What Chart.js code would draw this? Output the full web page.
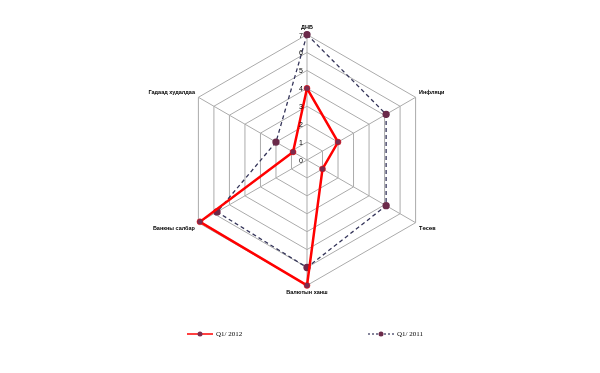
<!DOCTYPE html>
<html>
<head>
<meta charset="utf-8">
<script src="https://cdn.jsdelivr.net/npm/chart.js@4.4.0/dist/chart.umd.min.js"></script>
<style>
  body { margin: 0; background: #fff; }
  #wrap { width: 600px; height: 373px; position: relative; }
</style>
</head>
<body>
<div id="wrap"><canvas id="radar-chart"></canvas></div>
<script>
// data
var categories = ["ДНБ", "Инфляци", "Төсөв", "Валютын ханш", "Банкны салбар", "Гадаад худалдаа"];
var series2012 = [4, 2, 1, 7, 6.9, 0.9];
var series2011 = [7, 5.1, 5.1, 6, 5.8, 2];
var seriesNames = ["Q1/ 2012", "Q1/ 2011"];
var tickValues = [0, 1, 2, 3, 4, 5, 6, 7];

// tick labels drawn slightly left of the vertical axis
var tickPlugin = {
    id: "tickLabels",
    afterDraw: function (chart) {
        var s = chart.scales.r;
        var ctx = chart.ctx;
        ctx.save();
        ctx.font = "7px 'Liberation Sans', Arial, sans-serif";
        ctx.fillStyle = "#000";
        ctx.textAlign = "right";
        ctx.textBaseline = "middle";
        s.ticks.forEach(function (t) {
            var d = s.getDistanceFromCenterForValue(t.value);
            ctx.fillText(String(t.value), s.xCenter - 4, s.yCenter - d + 1);
        });
        ctx.restore();
    }
};

// legend at the bottom, items spread wide like the original
var legendPlugin = {
    id: "wideLegend",
    afterDraw: function (chart) {
        var ctx = chart.ctx;
        var y = 334;
        var xs = [187, 368];
        ctx.save();
        chart.data.datasets.forEach(function (ds, i) {
            var x = xs[i];
            ctx.strokeStyle = ds.borderColor;
            ctx.lineWidth = i === 0 ? 1.5 : 1.2;
            ctx.setLineDash(i === 0 ? [] : [2, 2]);
            ctx.beginPath();
            ctx.moveTo(x, y); ctx.lineTo(x + 26, y);
            ctx.stroke();
            ctx.setLineDash([]);
            ctx.fillStyle = ds.pointBackgroundColor;
            ctx.beginPath();
            ctx.arc(x + 13, y, 2.5, 0, Math.PI * 2);
            ctx.fill();
            ctx.fillStyle = "#000";
            ctx.font = "7px 'Liberation Serif', 'Times New Roman', serif";
            ctx.textBaseline = "middle";
            ctx.fillText(ds.label, x + 29, y + 0.5);
        });
        ctx.restore();
    }
};

var data = {
    labels: categories,
    datasets: [{
        label: seriesNames[0],
        data: series2012,
        borderColor: "#ff0000",
        borderWidth: 2.5,
        pointBackgroundColor: "#7b2d4f",
        pointBorderColor: "#ff0000",
        pointBorderWidth: 0.5,
        pointRadius: 3,
        fill: false,
        tension: 0
    }, {
        label: seriesNames[1],
        data: series2011,
        borderColor: "#35355a",
        borderWidth: 1.3,
        borderDash: [4, 3],
        pointBackgroundColor: "#6b2a4a",
        pointBorderColor: "#6b2a4a",
        pointRadius: 3,
        fill: false,
        tension: 0
    }]
};

var config = {
    type: "radar",
    data: data,
    options: {
        responsive: true,
        maintainAspectRatio: false,
        animation: false,
        layout: { padding: { top: 24, bottom: 76, left: 14, right: 0 } },
        scales: {
            r: {
                min: 0,
                max: 7,
                ticks: { stepSize: 1, display: false },
                grid: { color: "#ababab", lineWidth: 1 },
                angleLines: { color: "#ababab", lineWidth: 1 },
                pointLabels: {
                    color: "#000",
                    padding: 4,
                    font: { family: "'Liberation Sans', Arial, sans-serif", size: 5.5, weight: "bold" }
                }
            }
        },
        plugins: {
            legend: { display: false },
            tooltip: { enabled: false }
        }
    },
    plugins: [tickPlugin, legendPlugin]
};

var myChart = new Chart(document.getElementById("radar-chart"), config);
</script>
</body>
</html>
